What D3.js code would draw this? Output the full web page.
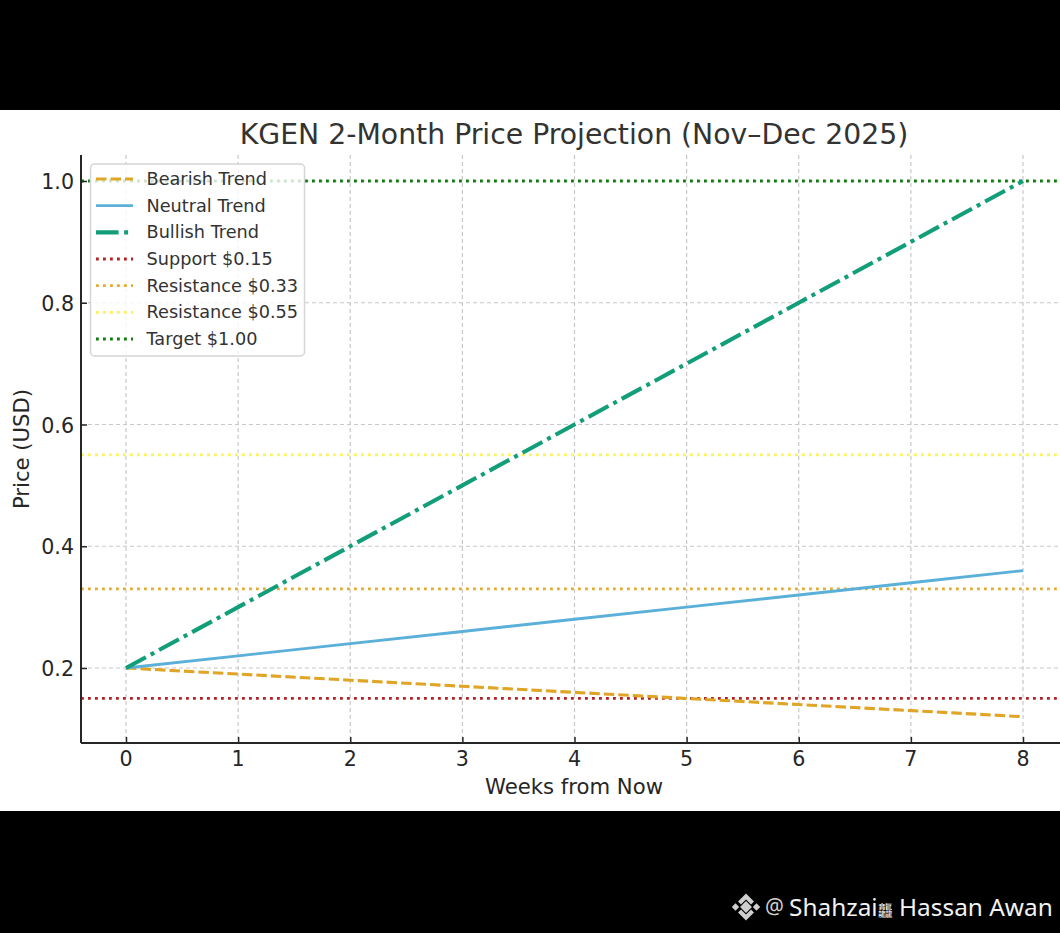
<!DOCTYPE html>
<html><head><meta charset="utf-8">
<script src="https://cdn.jsdelivr.net/npm/d3@7/dist/d3.min.js"></script>
<style>html,body{margin:0;padding:0;background:#000}svg{display:block}text{font-family:"DejaVu Sans",sans-serif}</style>
</head><body><svg id="c" width="1060" height="933"></svg>
<script>
const weeks=[0,1,2,3,4,5,6,7,8];
const bearish=[0.20,0.19,0.18,0.17,0.16,0.15,0.14,0.13,0.12];
const neutral=[0.20,0.22,0.24,0.26,0.28,0.30,0.32,0.34,0.36];
const bullish=[0.20,0.30,0.40,0.50,0.60,0.70,0.80,0.90,1.00];
const levels=[0.15,0.33,0.55,1.00];
const levelNames=["Support $0.15","Resistance $0.33","Resistance $0.55","Target $1.00"];
const levelColors=["#b22222","#e6ab2e","#fff15a","#117a11"];
const trendNames=["Bearish Trend","Neutral Trend","Bullish Trend"];
const trendColors=["#E0A526","#5AB0D8","#129E78"];
const xTicks=[0,1,2,3,4,5,6,7,8];
const yTicks=[0.2,0.4,0.6,0.8,1.0];

const svg=d3.select("#c");
const ink="#262626";
svg.append("rect").attr("x",0).attr("y",110).attr("width",1060).attr("height",701).attr("fill","#fff");
const x=d3.scaleLinear().domain([0,8]).range([126,1023]);
const y=d3.scaleLinear().domain([0.2,1.0]).range([668,181]);
const plotLeft=81,plotBottom=743,plotTop=155,plotRight=1060;

svg.append("text").attr("x",574).attr("y",144).attr("text-anchor","middle")
  .attr("font-size",28.3).attr("fill","#333").text("KGEN 2-Month Price Projection (Nov–Dec 2025)");

const gridDash="4,3";
const g=svg.append("g");
g.selectAll(".gx").data(xTicks).join("line").attr("x1",d=>x(d)).attr("x2",d=>x(d)).attr("y1",plotTop).attr("y2",plotBottom)
  .attr("stroke","#c8c8c8").attr("stroke-width",1.2).attr("stroke-dasharray",gridDash);
g.selectAll(".gy").data(yTicks).join("line").attr("x1",plotLeft).attr("x2",plotRight).attr("y1",d=>y(d)).attr("y2",d=>y(d))
  .attr("stroke","#c8c8c8").attr("stroke-width",1.2).attr("stroke-dasharray",gridDash);

const levelDash="2.8,4.2";
g.selectAll(".lv").data(levels).join("line").attr("x1",plotLeft).attr("x2",plotRight).attr("y1",d=>y(d)).attr("y2",d=>y(d))
  .attr("stroke",(d,i)=>levelColors[i]).attr("stroke-width",2.8).attr("stroke-dasharray",levelDash);

const line=d3.line().x((d,i)=>x(weeks[i])).y(d=>y(d));
const trendDash=["10.5,4",null,"22.6,5.5,4,5.5"];
const trendWidth=[3.1,2.9,4.1];
[bearish,neutral,bullish].forEach((s,i)=>{
  g.append("path").datum(s).attr("d",line).attr("fill","none").attr("stroke",trendColors[i])
   .attr("stroke-width",trendWidth[i]).attr("stroke-dasharray",trendDash[i]);
});

const xAxis=d3.axisBottom(x).tickValues(xTicks).tickFormat(d3.format("d")).tickSizeOuter(0).tickSizeInner(-6).tickPadding(8);
const gx=svg.append("g").attr("transform",`translate(0,${plotBottom})`).call(xAxis);
const yAxis=d3.axisLeft(y).tickValues(yTicks).tickFormat(d3.format(".1f")).tickSizeOuter(0).tickSizeInner(-6).tickPadding(7);
const gy=svg.append("g").attr("transform",`translate(${plotLeft},0)`).call(yAxis);
gx.select(".domain").attr("d",`M${plotLeft},0H${plotRight}`);
gy.select(".domain").attr("d",`M0,${plotTop}V${plotBottom}`);
[gx,gy].forEach(a=>{
  a.select(".domain").attr("stroke",ink).attr("stroke-width",2);
  a.selectAll(".tick line").attr("stroke",ink).attr("stroke-width",1.5);
  a.selectAll(".tick text").attr("font-size",20.6).attr("fill",ink).attr("font-family",'"DejaVu Sans"');
});
gy.selectAll(".tick text").attr("y",1);
gx.selectAll(".tick text").attr("x",-0.5);
svg.append("text").attr("x",574).attr("y",794).attr("text-anchor","middle").attr("font-size",21.2).attr("fill",ink).text("Weeks from Now");
svg.append("text").attr("transform","translate(29,449) rotate(-90)").attr("text-anchor","middle").attr("font-size",21.2).attr("fill",ink).text("Price (USD)");

// legend
const lg=svg.append("g");
lg.append("rect").attr("x",90.5).attr("y",164).attr("width",214).attr("height",192).attr("rx",4)
  .attr("fill","#fff").attr("fill-opacity",0.8).attr("stroke","#d5d5d5").attr("stroke-width",1.5);
const names=trendNames.concat(levelNames);
const cols=trendColors.concat(levelColors);
const dashes=trendDash.concat(levelNames.map(()=>levelDash));
const widths=trendWidth.concat(levelNames.map(()=>2.8));
const rows=d3.scalePoint().domain(d3.range(names.length)).range([179,339]);
names.forEach((n,i)=>{
  const yy=rows(i);
  lg.append("line").attr("x1",96).attr("x2",133).attr("y1",yy).attr("y2",yy).attr("stroke",cols[i])
    .attr("stroke-width",widths[i]).attr("stroke-dasharray",dashes[i]);
  lg.append("text").attr("x",146.5).attr("y",yy+6).attr("font-size",17.7).attr("fill","#333").text(n);
});

// watermark
const wm=svg.append("g").attr("fill","#cfcfcf");
const logo=[[746,907,4.2],[735.5,907,2.6],[756.5,907,2.6]];
wm.append("path").attr("d","M746,893.5l8,8l-3,3l-5,-5l-5,5l-3,-3zM746,920.5l8,-8l-3,-3l-5,5l-5,-5l-3,3z");
logo.forEach(d=>{ wm.append("rect").attr("x",d[0]-d[2]).attr("y",d[1]-d[2]).attr("width",d[2]*2).attr("height",d[2]*2)
  .attr("transform",`rotate(45 ${d[0]} ${d[1]})`); });
svg.append("text").attr("x",765).attr("y",914).attr("font-size",21).attr("fill","#cfcfcf").style("font-family",'"Noto Sans"').text("@");
const wmText=svg.append("text").attr("x",789).attr("y",916).attr("font-size",24.4).attr("fill","#f2f2f2").style("font-family",'"Noto Sans","Noto Sans CJK SC"');
wmText.append("tspan").text("Shahzai");
wmText.append("tspan").attr("font-size",15).text("龘");
wmText.append("tspan").text(" Hassan Awan");
</script></body></html>
